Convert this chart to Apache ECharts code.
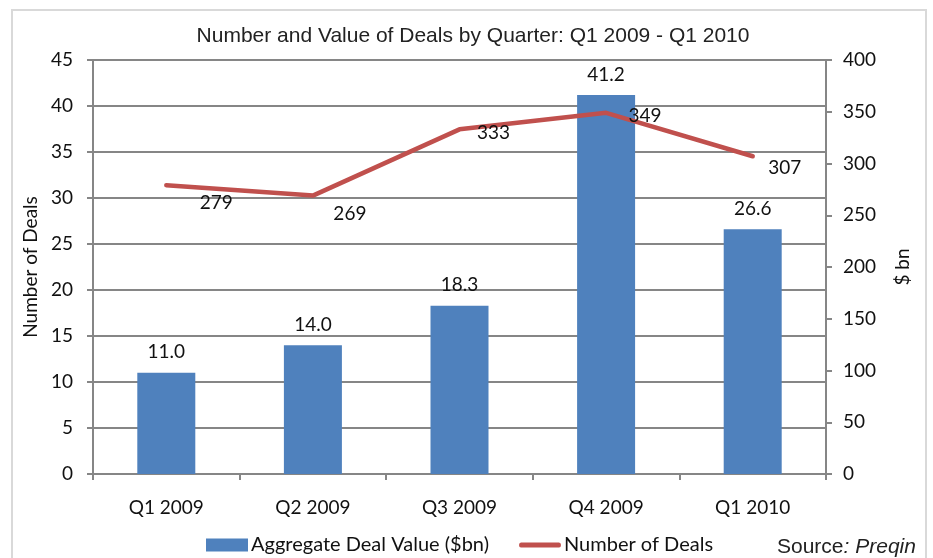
<!DOCTYPE html>
<html lang="en">
<head>
    <meta charset="UTF-8">
    <title>Number and Value of Deals by Quarter</title>
    <style>
        html, body { margin: 0; padding: 0; background: #fff; }
    </style>
</head>
<body>
<div id="main" style="width: 933px;height:558px;"></div>
<script src="https://cdn.jsdelivr.net/npm/echarts@6/dist/echarts.min.js"></script>
<script>
    var myChart = echarts.init(document.getElementById('main'));

    // quarters on the x axis
    var quarters = ['Q1 2009', 'Q2 2009', 'Q3 2009', 'Q4 2009', 'Q1 2010'];
    // bars (left axis)
    var dealValue = [11.0, 14.0, 18.3, 41.2, 26.6];
    // line (right axis)
    var dealCount = [279, 269, 333, 349, 307];

    var leftTicks = [0, 45, 5];
    var rightTicks = [0, 400, 50];

    // where the line labels sit relative to their point (Excel placed them by hand)
    var lineLabelOffsets = [[50, 18], [37, 18], [34, 4], [39, 3], [32, 12]];

    var font = 'Lato, "Open Sans", sans-serif';
    var axisGrey = '#868686';
    var red = '#C0504D';

    var option = {
        backgroundColor: '#fff',
        animation: false,
        title: {
            text: 'Number and Value of Deals by Quarter: Q1 2009 - Q1 2010',
            left: 468,
            top: 21,
            textAlign: 'center',
            textStyle: {
                fontFamily: '"Liberation Sans", Arial, sans-serif',
                fontWeight: 'normal',
                fontSize: 21,
                color: '#222'
            }
        },
        grid: { left: 93, right: 107, top: 60, bottom: 84, containLabel: false },
        legend: {
            left: 201,
            top: 530,
            itemWidth: 42,
            itemHeight: 13,
            itemGap: 30,
            textStyle: { fontFamily: font, fontSize: 20, color: '#111', padding: [0, 0, 0, -2] },
            data: [
                { name: 'Aggregate Deal Value ($bn)', icon: 'rect' },
                {
                    name: 'Number of Deals',
                    icon: 'path://M2,0 L40,0 Q42,0 42,2.5 Q42,5 40,5 L2,5 Q0,5 0,2.5 Q0,0 2,0 Z',
                    itemStyle: { color: red, opacity: 1 }
                }
            ]
        },
        xAxis: {
            type: 'category',
            data: quarters,
            boundaryGap: true,
            axisLine: { lineStyle: { color: axisGrey, width: 2 } },
            axisTick: { show: true, length: 6, lineStyle: { color: axisGrey, width: 2 } },
            axisLabel: { margin: 24, fontFamily: font, fontSize: 19, color: '#111' },
            splitLine: { show: false }
        },
        yAxis: [
            {
                type: 'value',
                name: 'Number of Deals',
                nameLocation: 'middle',
                nameGap: 51,
                nameRotate: 90,
                nameTextStyle: { fontFamily: font, fontSize: 19, color: '#111' },
                min: leftTicks[0],
                max: leftTicks[1],
                interval: leftTicks[2],
                axisLine: { show: true, lineStyle: { color: axisGrey, width: 2 } },
                axisTick: { show: true, length: 6, lineStyle: { color: axisGrey, width: 2 } },
                axisLabel: { margin: 20, fontFamily: font, fontSize: 19, color: '#111' },
                splitLine: { show: true, lineStyle: { color: axisGrey, width: 2 } }
            },
            {
                type: 'value',
                name: '$ bn',
                position: 'right',
                nameLocation: 'middle',
                nameGap: 67,
                nameRotate: 90,
                nameTextStyle: { fontFamily: font, fontSize: 19, color: '#111' },
                min: rightTicks[0],
                max: rightTicks[1],
                interval: rightTicks[2],
                axisLine: { show: true, lineStyle: { color: axisGrey, width: 2 } },
                axisTick: { show: true, length: 6, lineStyle: { color: axisGrey, width: 2 } },
                axisLabel: { margin: 17, fontFamily: font, fontSize: 19, color: '#111' },
                splitLine: { show: false }
            }
        ],
        series: [
            {
                name: 'Aggregate Deal Value ($bn)',
                type: 'bar',
                yAxisIndex: 0,
                barWidth: 58,
                data: dealValue,
                itemStyle: { color: '#4F81BD' },
                label: {
                    show: true,
                    position: 'top',
                    distance: 11,
                    fontFamily: font,
                    fontSize: 19,
                    color: '#111',
                    formatter: function (p) { return p.value.toFixed(1); }
                }
            },
            {
                name: 'Number of Deals',
                type: 'line',
                yAxisIndex: 1,
                symbol: 'circle',
                symbolSize: 1,
                data: dealCount.map(function (v, i) {
                    return {
                        value: v,
                        label: { offset: lineLabelOffsets[i] }
                    };
                }),
                itemStyle: { color: 'rgba(0,0,0,0)' },
                lineStyle: { color: red, width: 4.5, cap: 'round', join: 'round' },
                label: {
                    show: true,
                    position: 'inside',
                    fontFamily: font,
                    fontSize: 19,
                    color: '#111'
                },
                z: 3
            }
        ],
        graphic: [
            {
                type: 'rect',
                shape: { x: 12, y: 10, width: 914, height: 560 },
                style: { fill: null, stroke: '#d9d9d9', lineWidth: 2 },
                silent: true
            },
            {
                type: 'text',
                left: 777,
                top: 537,
                style: {
                    text: '{a|Source}{b|: Preqin}',
                    rich: {
                        a: { fontFamily: '"Liberation Sans", Arial, sans-serif', fontSize: 21, fill: '#222' },
                        b: { fontFamily: '"Liberation Sans", Arial, sans-serif', fontSize: 21, fontStyle: 'italic', fill: '#222' }
                    }
                }
            }
        ]
    };

    myChart.setOption(option);
</script>
</body>
</html>
